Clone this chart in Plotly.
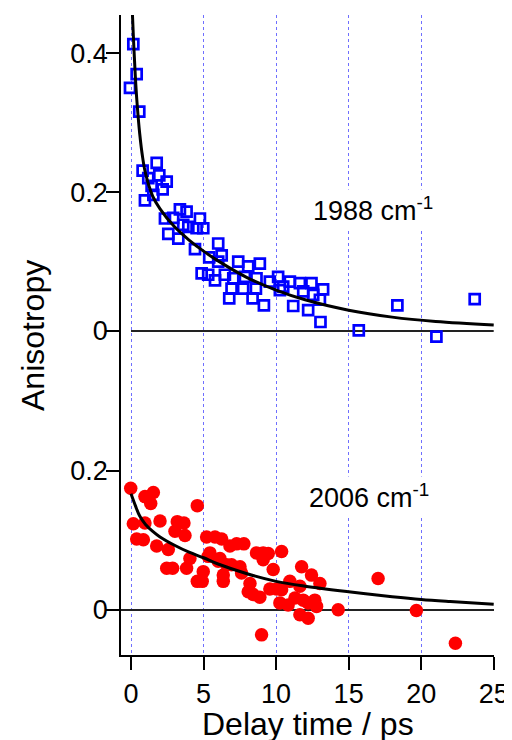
import plotly.graph_objects as go

# ---- 1988 cm-1 data (top panel) ----
t_1988 = [-0.07, 0.16, 0.39, 0.57, 0.80, 0.96, 1.19, 1.42, 1.54, 1.77, 1.95, 2.18, 2.46, 2.34, 2.57,
          2.91, 3.26, 3.37, 3.60, 3.83, 3.95, 4.41, 4.52, 4.75, 4.98, 4.87, 5.32, 5.39, 5.79, 6.01,
          6.01, 6.25, 6.47, 6.77, 6.93, 7.05, 7.39, 7.73, 7.85, 8.08, 8.38, 8.61, 8.65, 8.88, 9.16,
          9.57, 10.14, 10.26, 10.49, 10.95, 11.18, 11.64, 11.87, 12.21, 12.44, 12.56, 13.02, 13.06,
          13.24, 15.70, 18.36, 21.05, 23.69]
r_1988 = [0.350, 0.413, 0.370, 0.316, 0.231, 0.188, 0.220, 0.209, 0.196, 0.242, 0.224, 0.204, 0.215,
          0.162, 0.140, 0.163, 0.133, 0.175, 0.153, 0.172, 0.150, 0.118, 0.148, 0.162, 0.148, 0.083,
          0.081, 0.106, 0.073, 0.126, 0.100, 0.109, 0.081, 0.047, 0.061, 0.076, 0.100, 0.061, 0.078,
          0.093, 0.047, 0.061, 0.076, 0.097, 0.037, 0.071, 0.078, 0.059, 0.064, 0.071, 0.036, 0.069,
          0.057, 0.030, 0.069, 0.052, 0.045, 0.013, 0.060, 0.001, 0.037, -0.008, 0.046]

fit_t_1988 = [0.05, 0.1, 0.2, 0.3, 0.4, 0.6, 0.8, 1.0, 1.5, 2.0, 3.0, 4.0, 5.0, 6.0, 8.0, 10.0,
              12.0, 15.0, 18.0, 21.0, 25.0]
fit_r_1988 = [0.48, 0.455, 0.407, 0.366, 0.333, 0.284, 0.250, 0.227, 0.194, 0.176, 0.150, 0.131,
              0.115, 0.101, 0.077, 0.059, 0.045, 0.030, 0.020, 0.0137, 0.0087]

# ---- 2006 cm-1 data (bottom panel) ----
t_2006 = [-0.02, 0.16, 0.39, 0.85, 0.96, 0.96, 1.36, 1.54, 1.77, 2.0, 2.46, 2.57, 2.87, 3.03, 3.19,
          3.65, 3.72, 3.83, 4.06, 4.57, 4.57, 4.91, 4.98, 5.21, 5.32, 5.44, 5.79, 6.01, 6.13, 6.25,
          6.36, 6.36, 6.59, 6.82, 6.93, 7.28, 7.51, 7.62, 7.78, 8.08, 8.20, 8.42, 8.65, 8.88, 9.00,
          9.11, 9.11, 9.46, 9.57, 9.80, 10.03, 10.26, 10.38, 10.38, 10.83, 10.95, 11.30, 11.64,
          11.64, 11.76, 11.87, 12.21, 12.21, 12.44, 12.67, 12.79, 13.02, 14.28, 17.03, 19.67, 22.36]
r_2006 = [0.175, 0.124, 0.102, 0.101, 0.125, 0.163, 0.153, 0.169, 0.092, 0.128, 0.060, 0.087, 0.060,
          0.113, 0.127, 0.125, 0.107, 0.060, 0.074, 0.150, 0.041, 0.041, 0.055, 0.105, 0.077, 0.082,
          0.105, 0.070, 0.074, 0.102, 0.050, 0.041, 0.065, 0.092, 0.065, 0.095, 0.062, 0.053, 0.095,
          0.026, 0.038, 0.022, 0.082, 0.018, -0.036, 0.082, 0.072, 0.081, 0.030, 0.058, 0.030, 0.010,
          0.084, 0.029, 0.007, 0.041, 0.017, 0.034, -0.007, 0.062, 0.014, 0.010, -0.012, 0.050,
          0.014, 0.005, 0.038, 0.000, 0.045, -0.001, -0.048]

fit_t_2006 = [0.0, 0.3, 0.6, 1.0, 1.5, 2.0, 3.0, 4.0, 5.0, 6.0, 8.0, 10.0, 12.0, 15.0, 18.0, 20.0,
              22.0, 25.0]
fit_r_2006 = [0.167, 0.150, 0.135, 0.123, 0.113, 0.105, 0.093, 0.083, 0.075, 0.066, 0.052, 0.041,
              0.034, 0.026, 0.019, 0.015, 0.012, 0.008]

# baseline (r = 0) of the top panel, drawn over the delay-time span
base_t_top = [0, 25]
base_r_top = [0, 0]

x_ticks = [0, 5, 10, 15, 20, 25]
y_ticks_top = [0, 0.2, 0.4]
y_ticks_bot = [0, 0.2]

FONT = "Arial, Liberation Sans, Helvetica, sans-serif"
GRID = "#6f6fff"
SPLIT = 0.4016

fig = go.Figure()

fig.add_trace(go.Scatter(x=base_t_top, y=base_r_top, mode="lines", xaxis="x2", yaxis="y2",
                         line=dict(color="#222", width=1.8), showlegend=False, hoverinfo="skip"))
fig.add_trace(go.Scatter(x=t_1988, y=r_1988, mode="markers", xaxis="x2", yaxis="y2",
                         marker=dict(symbol="square-open", size=10, color="#0000ff",
                                     line=dict(width=2.7, color="#0000ff")),
                         showlegend=False, cliponaxis=False))
fig.add_trace(go.Scatter(x=fit_t_1988, y=fit_r_1988, mode="lines", xaxis="x2", yaxis="y2",
                         line=dict(color="black", width=3, shape="spline"), showlegend=False))

fig.add_trace(go.Scatter(x=t_2006, y=r_2006, mode="markers", xaxis="x", yaxis="y",
                         marker=dict(symbol="circle", size=13.5, color="#ff0000"),
                         showlegend=False))
fig.add_trace(go.Scatter(x=fit_t_2006, y=fit_r_2006, mode="lines", xaxis="x", yaxis="y",
                         line=dict(color="black", width=3, shape="spline"), showlegend=False))

xr = [-0.69, 25.02]
common_x = dict(range=xr, tickvals=x_ticks, showgrid=True, gridcolor=GRID, griddash="dot",
                gridwidth=1, zeroline=False)

# page body has an 8px default margin: size the figure so it fills the 512x740 window
fig.update_layout(
    width=504, height=732,
    margin=dict(l=113, r=18, t=7, b=85, autoexpand=False),
    paper_bgcolor="white", plot_bgcolor="white",
    font=dict(family=FONT, size=27, color="black"),
    xaxis=dict(**common_x, domain=[0, 1], anchor="y", showline=True, linecolor="black",
               linewidth=1.5, ticks="outside", ticklen=13, tickwidth=1.5, tickcolor="black",
               ticklabelstandoff=1, tickfont=dict(size=27)),
    xaxis2=dict(**common_x, domain=[0, 1], anchor="y2", matches="x", showticklabels=False,
                showline=False, ticks=""),
    yaxis=dict(domain=[0, SPLIT], range=[-0.065, 0.305], tickvals=y_ticks_bot,
               ticktext=["0", "0.2"], showgrid=False, zeroline=True, zerolinecolor="#222",
               zerolinewidth=1.8, showline=True, linecolor="black", linewidth=1.5,
               ticks="outside", ticklen=13, tickwidth=1.5, tickcolor="black", anchor="x",
               ticklabelstandoff=-7),
    yaxis2=dict(domain=[SPLIT, 1], range=[-0.0964, 0.455], tickvals=y_ticks_top,
                ticktext=["0", "0.2", "0.4"], showgrid=False, zeroline=False,
                showline=True, linecolor="black", linewidth=1.5,
                ticks="outside", ticklen=13, tickwidth=1.5, tickcolor="black", anchor="x2",
                ticklabelstandoff=-7),
    annotations=[
        dict(text="1988 cm<sup>-1</sup>", x=16.7, y=0.175, xref="x2", yref="y2",
             showarrow=False, bgcolor="white", font=dict(size=27), borderpad=2),
        dict(text="2006 cm<sup>-1</sup>", x=16.4, y=0.164, xref="x", yref="y",
             showarrow=False, bgcolor="white", font=dict(size=27), borderpad=2),
        dict(text="Anisotropy", x=-0.236, y=0.5, xref="paper", yref="paper", textangle=-90,
             showarrow=False, font=dict(size=32), xanchor="center", yanchor="middle"),
        dict(text="Delay time / ps", x=0.5, y=-0.108, xref="paper", yref="paper",
             showarrow=False, font=dict(size=32), xanchor="center", yanchor="middle"),
    ],
)

fig.write_html("out.html")
